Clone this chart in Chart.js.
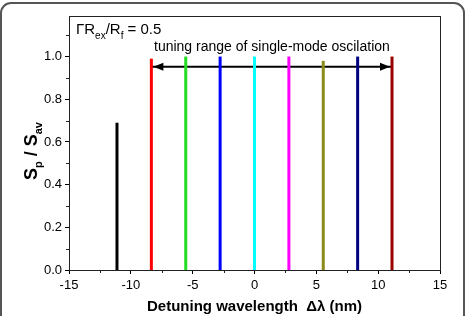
<!DOCTYPE html>
<html>
<head>
<meta charset="utf-8">
<script src="https://cdn.jsdelivr.net/npm/chart.js@4"></script>
<style>
  html, body { margin: 0; padding: 0; background: #fff; }
  #wrap { position: relative; width: 467px; height: 316px; }
</style>
</head>
<body>
<div id="wrap"><canvas id="modeChart"></canvas></div>
<script>
// detuning positions (nm) and normalised peak power of each mode
const detuning = [-11.12, -8.34, -5.56, -2.78, 0, 2.78, 5.56, 8.34, 11.12];
const peakPower = [0.69, 0.99, 1.0, 1.0, 1.0, 1.0, 0.98, 1.0, 1.0];
const modeColors = ['#000000', '#ff0000', '#22dd22', '#0000ff', '#00ffff',
                    '#ff00ff', '#8b8b1a', '#000080', '#9b0000'];
// arrow marking tuning range
const arrowRange = [-8.34, 11.12];
const arrowLevel = 0.952;
const xTicks = [-15, -10, -5, 0, 5, 10, 15];
const yTicks = [0.0, 0.2, 0.4, 0.6, 0.8, 1.0];

const fontName = '"Liberation Sans", Arial, sans-serif';

function drawUserModeChart() {
    const datasets = detuning.map(function (x, i) {
        return {
            data: [{x: x, y: 0}, {x: x, y: peakPower[i]}],
            borderColor: modeColors[i],
            borderWidth: 3,
            pointRadius: 0,
            showLine: true,
            borderCapStyle: 'butt'
        };
    });
    datasets.push({
        data: [{x: arrowRange[0], y: arrowLevel}, {x: arrowRange[1], y: arrowLevel}],
        borderColor: '#000',
        borderWidth: 2,
        pointRadius: 0,
        showLine: true
    });

    const extras = {
        id: 'extras',
        beforeDraw(chart) {
            const ctx = chart.ctx;
            ctx.save();
            ctx.fillStyle = '#fff';
            ctx.fillRect(0, 0, chart.width, chart.height);
            // outer rounded frame
            ctx.strokeStyle = '#555';
            ctx.lineWidth = 2;
            ctx.beginPath();
            ctx.roundRect(1, 3, 463, 340, 10);
            ctx.stroke();
            ctx.restore();
        },
        afterDatasetsDraw(chart) {
            const ctx = chart.ctx;
            const xs = chart.scales.x, ys = chart.scales.y;
            const a = chart.chartArea;
            ctx.save();
            // plot frame
            ctx.strokeStyle = '#222';
            ctx.lineWidth = 1;
            ctx.strokeRect(a.left + 0.5, a.top + 0.5, a.right - a.left, a.bottom - a.top);

            // minor ticks
            ctx.beginPath();
            for (let v = -12.5; v < 15; v += 5) {
                const px = Math.round(xs.getPixelForValue(v)) + 0.5;
                ctx.moveTo(px, a.bottom);
                ctx.lineTo(px, a.bottom + 3);
            }
            for (let v = 0.1; v < 1.15; v += 0.2) {
                const py = Math.round(ys.getPixelForValue(v)) + 0.5;
                ctx.moveTo(a.left, py);
                ctx.lineTo(a.left - 3, py);
            }
            ctx.stroke();

            // arrow heads
            const y = ys.getPixelForValue(arrowLevel);
            const x0 = xs.getPixelForValue(arrowRange[0]) + 2;
            const x1 = xs.getPixelForValue(arrowRange[1]) - 2;
            ctx.fillStyle = '#000';
            ctx.beginPath();
            ctx.moveTo(x0, y);
            ctx.lineTo(x0 + 10, y - 4);
            ctx.lineTo(x0 + 10, y + 4);
            ctx.closePath();
            ctx.fill();
            ctx.beginPath();
            ctx.moveTo(x1, y);
            ctx.lineTo(x1 - 10, y - 4);
            ctx.lineTo(x1 - 10, y + 4);
            ctx.closePath();
            ctx.fill();

            // annotation texts
            ctx.fillStyle = '#000';
            ctx.textBaseline = 'alphabetic';
            ctx.textAlign = 'left';
            ctx.font = '14px ' + fontName;
            ctx.fillText('tuning range of single-mode oscilation', 154, 51);

            let tx = 76;
            const parts = [
                ['\u0393R', 15, 0], ['ex', 10, 5], ['/R', 15, 0], ['f', 10, 5], [' = 0.5', 15, 0]
            ];
            parts.forEach(function (p) {
                ctx.font = p[1] + 'px ' + fontName;
                ctx.fillText(p[0], tx, 34 + p[2]);
                tx += ctx.measureText(p[0]).width;
            });

            // y axis title with subscripts
            ctx.translate(37, 151);
            ctx.rotate(-Math.PI / 2);
            const yparts = [['S', 'bold 18px', 0], ['p', 'bold 11px', 5], [' / ', 'bold 18px', 0],
                            ['S', 'bold 18px', 0], ['av', 'bold 11px', 5]];
            let w = 0;
            yparts.forEach(function (p) { ctx.font = p[1] + ' ' + fontName; w += ctx.measureText(p[0]).width; });
            let ty = -w / 2;
            yparts.forEach(function (p) {
                ctx.font = p[1] + ' ' + fontName;
                ctx.fillText(p[0], ty, p[2]);
                ty += ctx.measureText(p[0]).width;
            });
            ctx.restore();
        }
    };

    const configChart = {
        type: 'scatter',
        data: { datasets: datasets },
        options: {
            responsive: true,
            maintainAspectRatio: false,
            animation: false,
            events: [],
            layout: { padding: { left: 0, right: 27, top: 16, bottom: 0 } },
            plugins: { legend: { display: false }, tooltip: { enabled: false } },
            scales: {
                x: {
                    type: 'linear',
                    min: -15,
                    max: 15,
                    afterBuildTicks(s) { s.ticks = xTicks.map(v => ({value: v})); },
                    afterFit(s) { s.height = 46; },
                    grid: { drawOnChartArea: false, drawTicks: true, tickLength: 4, color: '#000' },
                    border: { display: true, color: '#000' },
                    ticks: {
                        color: '#000',
                        padding: 4,
                        maxRotation: 0,
                        font: { family: fontName, size: 13 },
                        callback: v => String(v)
                    },
                    title: {
                        display: true,
                        text: 'Detuning wavelength  \u0394\u03bb (nm)',
                        color: '#000',
                        padding: { top: 3, bottom: 0 },
                        font: { family: fontName, size: 15, weight: 'bold' }
                    }
                },
                y: {
                    type: 'linear',
                    min: 0,
                    max: 1.19,
                    afterBuildTicks(s) { s.ticks = yTicks.map(v => ({value: v})); },
                    afterFit(s) { s.width = 69; },
                    grid: { drawOnChartArea: false, drawTicks: true, tickLength: 4, color: '#000' },
                    border: { display: true, color: '#000' },
                    ticks: {
                        color: '#000',
                        padding: 3,
                        font: { family: fontName, size: 13 },
                        callback: v => v.toFixed(1)
                    }
                }
            }
        },
        plugins: [extras]
    };

    let chart = new Chart(document.getElementById('modeChart'), configChart);
}

drawUserModeChart();
</script>
</body>
</html>
